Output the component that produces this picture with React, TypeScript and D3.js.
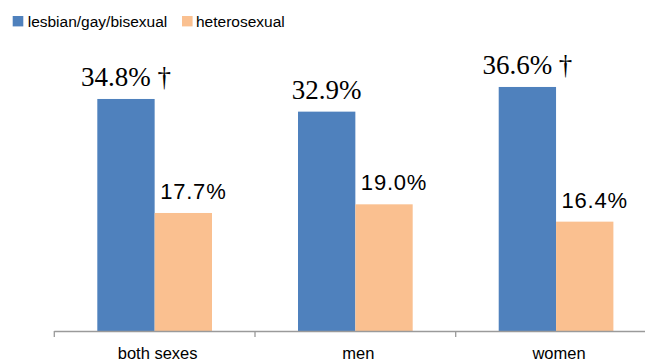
import React from "react";
import * as d3 from "d3";

const categories = ["both sexes", "men", "women"];
const seriesNames = ["lesbian/gay/bisexual", "heterosexual"];
const lgbValues = [34.8, 32.9, 36.6];
const heteroValues = [17.7, 19.0, 16.4];
const lgbLabels = ["34.8% \u2020", "32.9%", "36.6% \u2020"];
const heteroLabels = ["17.7%", "19.0%", "16.4%"];
const colors = ["#4F81BD", "#FAC090"];

const W = 645;
const H = 360;
const axisLeft = 54.3;
const band = 200.7;
const baseY = 331;

export default function App() {
  const x = d3
    .scaleBand<string>()
    .domain(categories)
    .range([axisLeft, axisLeft + band * categories.length])
    .padding(0);
  const xs = d3
    .scaleBand<string>()
    .domain(seriesNames)
    .range([0, x.bandwidth()])
    .paddingInner(0)
    .paddingOuter(0.75);
  const y = d3.scaleLinear().domain([0, 40]).range([baseY, baseY - 266.7]);

  const sans = "Liberation Sans";
  const serif = "Liberation Serif";

  const ticks = d3.range(categories.length + 1).map((i) => axisLeft + i * band);

  return (
    <svg
      width={W}
      height={H}
      style={{ position: "absolute", left: 0, top: 0, background: "#fff" }}
    >
      <rect x={0} y={0} width={W} height={H} fill="#fff" />
      <g style={{ fontFamily: sans, fontSize: "15.5px" }} fill="#000">
        <rect x={12.7} y={16} width={10.6} height={10.4} fill={colors[0]} />
        <text x={27.7} y={26.5}>{seriesNames[0]}</text>
        <rect x={182} y={16} width={10.6} height={10.4} fill={colors[1]} />
        <text x={196} y={26.5}>{seriesNames[1]}</text>
      </g>
      {categories.map((c, i) => {
        const bx0 = (x(c) as number) + (xs(seriesNames[0]) as number);
        const bx1 = (x(c) as number) + (xs(seriesNames[1]) as number);
        const bw = xs.bandwidth();
        return (
          <g key={c}>
            <rect x={bx0} y={y(lgbValues[i])} width={bw} height={baseY - y(lgbValues[i])} fill={colors[0]} />
            <rect x={bx1} y={y(heteroValues[i])} width={bw} height={baseY - y(heteroValues[i])} fill={colors[1]} />
            <text
              x={bx0 + bw / 2}
              y={y(lgbValues[i]) - 12.5}
              textAnchor="middle"
              fontFamily={serif}
              fontSize={27}
              style={{ fontFamily: serif, fontSize: "27px" }}
              fill="#000"
            >
              {lgbLabels[i]}
            </text>
            <text
              x={bx1 + 5.5}
              y={y(heteroValues[i]) - 14}
              fontFamily={sans}
              fontSize={22}
              letterSpacing={0.8}
              fill="#000"
            >
              {heteroLabels[i]}
            </text>
            <text
              x={(x(c) as number) + x.bandwidth() / 2 + 3}
              y={358.5}
              textAnchor="middle"
              fontFamily={sans}
              fontSize={16.5}
              fill="#000"
            >
              {c}
            </text>
          </g>
        );
      })}
      <line x1={axisLeft} x2={W} y1={baseY + 0.5} y2={baseY + 0.5} stroke="#9a9a9a" strokeWidth={1.5} />
      {ticks.map((t, i) => (
        <line key={i} x1={t} x2={t} y1={baseY} y2={baseY + 6} stroke="#9a9a9a" strokeWidth={1.3} />
      ))}
    </svg>
  );
}
